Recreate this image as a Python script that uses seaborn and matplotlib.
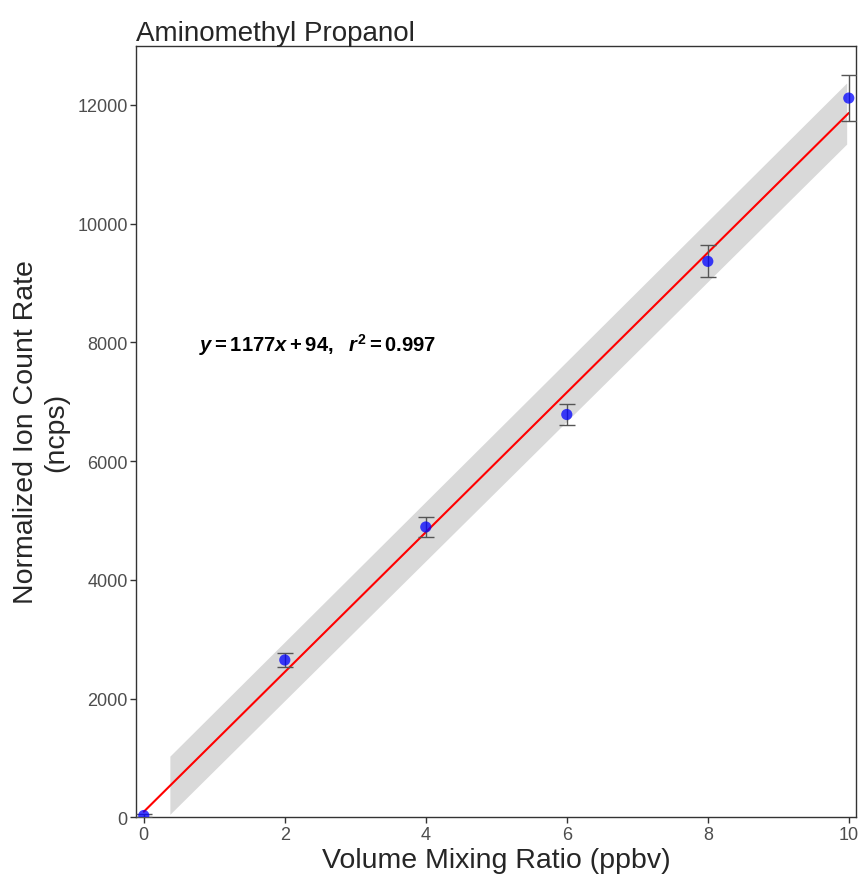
import matplotlib
matplotlib.use("Agg")
import numpy as np
import pandas as pd
import seaborn as sns
from matplotlib import pyplot as plt

# measured points
vmr = [0, 2, 4, 6, 8, 10]
ncps = [30, 2650, 4890, 6785, 9365, 12115]
ncps_err = [25, 115, 175, 185, 270, 390]

# fitted line and its band
fit_x = [0, 10]
fit_y = [94, 11864]
band_x = [0.37, 9.97]
band_lo = [50, 11340]
band_hi = [1030, 12370]

x_ticks = [0, 2, 4, 6, 8, 10]
y_ticks = [0, 2000, 4000, 6000, 8000, 10000, 12000]

sns.set_style("white")
plt.rcParams["font.family"] = ["Liberation Sans", "DejaVu Sans"]
plt.rcParams["mathtext.fontset"] = "custom"
plt.rcParams["mathtext.rm"] = "Liberation Sans:bold"
plt.rcParams["mathtext.it"] = "Liberation Sans:bold:italic"
plt.rcParams["mathtext.bf"] = "Liberation Sans:bold"

fig = plt.figure(figsize=(8.61, 8.78), dpi=100)
ax = fig.add_axes([0.158, 0.068, 0.836, 0.879])

ax.fill_between(band_x, band_lo, band_hi, color="#D9D9D9", linewidth=0, zorder=1)
sns.lineplot(x=fit_x, y=fit_y, color="red", linewidth=1.5, ax=ax, zorder=2)
ax.errorbar(vmr, ncps, yerr=ncps_err, fmt="none", ecolor="#555555",
            elinewidth=1, capsize=5.5, capthick=1, zorder=3)
df = pd.DataFrame({"vmr": vmr, "ncps": ncps})
sns.scatterplot(data=df, x="vmr", y="ncps", color="#0000FF", alpha=0.75,
                s=65, edgecolor="none", ax=ax, zorder=4)

ax.text(0.78, 7980, r"$y = 1177x + 94,\ \ r^2 = 0.997$", fontsize=14.5,
        va="center", ha="left", color="black")

ax.set_xlim(-0.11, 10.1)
ax.set_ylim(0, 13000)
ax.set_xticks(x_ticks)
ax.set_yticks(y_ticks)
ax.tick_params(axis="both", labelsize=13, labelcolor="#4D4D4D", colors="#333333",
               length=4, width=1, direction="out", pad=2, bottom=True, left=True)
for sp in ax.spines.values():
    sp.set_color("#333333")
    sp.set_linewidth(1)

ax.set_xlabel("Volume Mixing Ratio (ppbv)", fontsize=20.5, labelpad=3)
ax.set_ylabel("Normalized Ion Count Rate\n(ncps)", fontsize=20.5, labelpad=6)
ax.set_title("Aminomethyl Propanol", fontsize=20, loc="left", pad=4)

plt.savefig("out.png", dpi=100)
